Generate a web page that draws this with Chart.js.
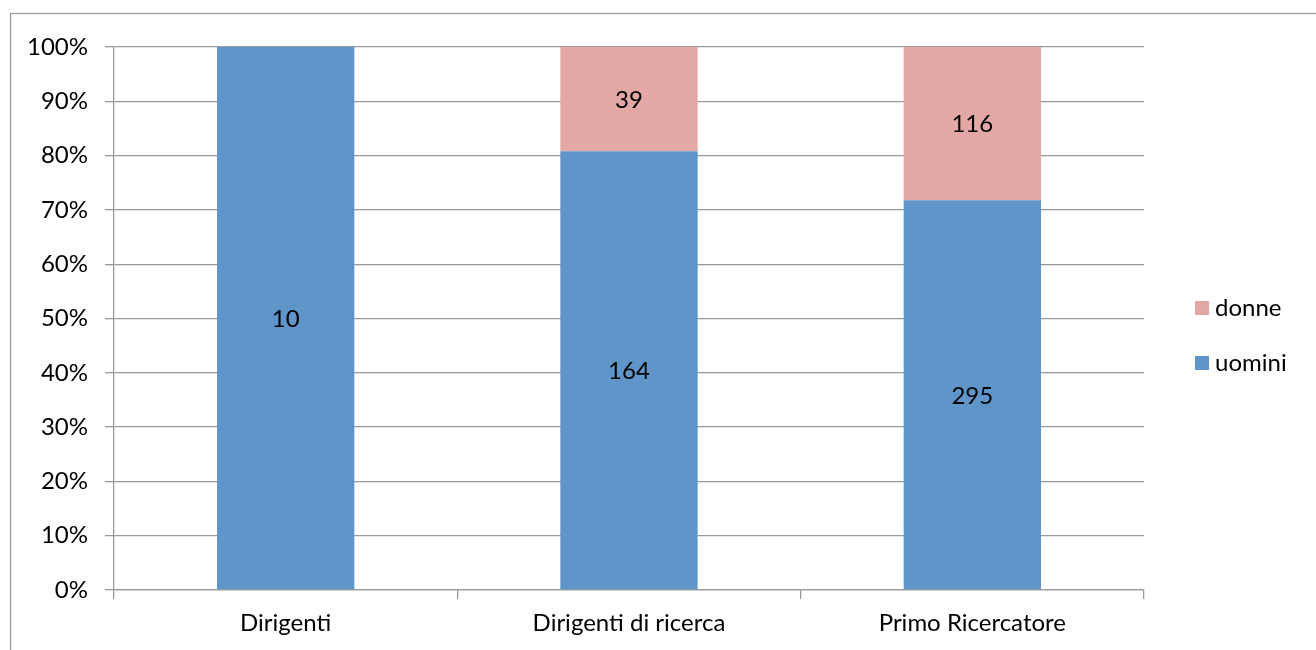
<!DOCTYPE html>
<html><head><meta charset="utf-8">
<script src="https://cdn.jsdelivr.net/npm/chart.js@4"></script>
<style>html,body{margin:0;padding:0;background:#fff;overflow:hidden}#wrap{width:1316px;height:650px;position:relative}</style>
</head><body><div id="wrap"><canvas id="c" width="1316" height="650"></canvas></div>
<script>
const categories = ["Dirigenti", "Dirigenti di ricerca", "Primo Ricercatore"];
const uomini = [10, 164, 295];
const donne = [0, 39, 116];
const yTicks = [0, 10, 20, 30, 40, 50, 60, 70, 80, 90, 100];
const seriesNames = ["uomini", "donne"];
const colors = {uomini: "#5F95C9", donne: "#E3A8A6"};

const totals = categories.map((_, i) => uomini[i] + donne[i]);
const pct = (arr) => arr.map((v, i) => v / totals[i] * 100);
const FONT = "Lato";
const FS = 24;
const GRID = "#999999";

const extras = {
  id: "extras",
  beforeDraw(chart) {
    const ctx = chart.ctx;
    ctx.save();
    ctx.fillStyle = "#fff";
    ctx.fillRect(0, 0, chart.width, chart.height);
    ctx.strokeStyle = "#9a9a9a";
    ctx.lineWidth = 1.3;
    ctx.strokeRect(10.5, 13.5, 3000, 3000);
    ctx.restore();
  },
  afterDatasetsDraw(chart) {
    const ctx = chart.ctx;
    ctx.save();
    ctx.font = FS + "px " + FONT;
    ctx.fillStyle = "#000";
    ctx.textAlign = "center";
    ctx.textBaseline = "middle";
    chart.data.datasets.forEach((ds, di) => {
      const meta = chart.getDatasetMeta(di);
      meta.data.forEach((bar, i) => {
        const cnt = ds.counts[i];
        if (!cnt) return;
        const yc = (bar.y + bar.base) / 2;
        ctx.fillText(String(cnt), bar.x, yc + 1);
      });
    });
    // legend (reverse order)
    const ca = chart.chartArea;
    const lx = ca.right + 51;
    const midY = (ca.top + ca.bottom) / 2 + 17;
    const gap = 55;
    const items = chart.data.datasets.slice().reverse();
    items.forEach((ds, k) => {
      const cy = midY + (k - (items.length - 1) / 2) * gap;
      ctx.fillStyle = ds.backgroundColor;
      ctx.fillRect(lx, cy - 7, 14, 14);
      ctx.fillStyle = "#000";
      ctx.textAlign = "left";
      ctx.fillText(ds.label, lx + 20, cy);
    });
    ctx.restore();
  }
};

new Chart(document.getElementById("c"), {
  type: "bar",
  data: {
    labels: categories,
    datasets: [
      {label: seriesNames[0], data: pct(uomini), counts: uomini, backgroundColor: colors.uomini,
       barPercentage: 0.4, categoryPercentage: 1.0},
      {label: seriesNames[1], data: pct(donne), counts: donne, backgroundColor: colors.donne,
       barPercentage: 0.4, categoryPercentage: 1.0}
    ]
  },
  options: {
    responsive: false,
    animation: false,
    devicePixelRatio: 1,
    layout: {padding: {left: 0, right: 172, top: 47, bottom: 0}},
    plugins: {legend: {display: false}, tooltip: {enabled: false}},
    scales: {
      x: {
        stacked: true,
        grid: {offset: true, drawOnChartArea: false, drawTicks: true, tickLength: 9, color: GRID, lineWidth: 1.3},
        border: {color: GRID, width: 1.3},
        ticks: {color: "#000", font: {family: FONT, size: FS}, padding: 10},
        afterFit(s) { s.height = 60; }
      },
      y: {
        stacked: true,
        min: 0, max: 100,
        afterBuildTicks(s) { s.ticks = yTicks.map(v => ({value: v})); },
        grid: {color: GRID, lineWidth: 1.3, tickLength: 9},
        border: {color: GRID, width: 1.3},
        ticks: {color: "#000", font: {family: FONT, size: FS}, padding: 17, callback: v => v + "%"},
        afterFit(s) { s.width = 114; }
      }
    }
  },
  plugins: [extras]
});
</script></body></html>
